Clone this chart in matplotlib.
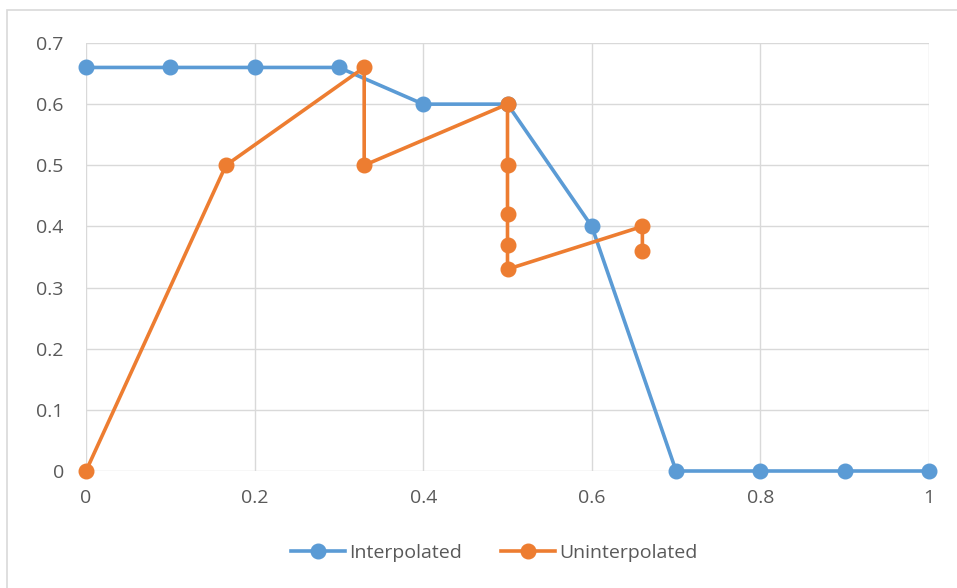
import matplotlib
matplotlib.use("Agg")
from matplotlib import pyplot as plt
from matplotlib.patches import Rectangle

# series
interp_x = [0, 0.1, 0.2, 0.3, 0.4, 0.5, 0.6, 0.7, 0.8, 0.9, 1.0]
interp_y = [0.66, 0.66, 0.66, 0.66, 0.6, 0.6, 0.4, 0, 0, 0, 0]

uninterp_x = [0, 0.166, 0.33, 0.33, 0.5, 0.5, 0.5, 0.5, 0.5, 0.66, 0.66]
uninterp_y = [0, 0.5, 0.66, 0.5, 0.6, 0.5, 0.42, 0.37, 0.33, 0.4, 0.36]

x_ticks = [0, 0.2, 0.4, 0.6, 0.8, 1]
x_tick_labels = ["0", "0.2", "0.4", "0.6", "0.8", "1"]
y_ticks = [0, 0.1, 0.2, 0.3, 0.4, 0.5, 0.6, 0.7]
y_tick_labels = ["0", "0.1", "0.2", "0.3", "0.4", "0.5", "0.6", "0.7"]

plt.rcParams["font.family"] = ["Open Sans", "DejaVu Sans"]

fig = plt.figure(figsize=(9.57, 5.88), dpi=100)
fig.patches.append(Rectangle((7 / 957, -0.1), 1.2, 1 - 10 / 588 + 0.1,
                             transform=fig.transFigure, fill=False,
                             edgecolor="#d9d9d9", linewidth=1.2))
ax = fig.add_axes([86 / 957, 1 - 471 / 588, (929 - 86) / 957, (471 - 43) / 588])

blue = "#5b9bd5"
orange = "#ed7d31"
ax.plot(interp_x, interp_y, color=blue, linewidth=2.6, marker="o",
        markersize=10.5, label="Interpolated", clip_on=False, zorder=3)
ax.plot(uninterp_x, uninterp_y, color=orange, linewidth=2.6, marker="o",
        markersize=10.5, label="Uninterpolated", clip_on=False, zorder=4)

ax.set_xlim(0, 1)
ax.set_ylim(0, 0.7)
ax.set_xticks(x_ticks, x_tick_labels)
ax.set_yticks(y_ticks, y_tick_labels)
ax.grid(True, color="#d9d9d9", linewidth=1)
ax.set_axisbelow(True)
for s in ax.spines.values():
    s.set_visible(False)
ax.tick_params(length=0, labelsize=14, colors="#595959")
ax.tick_params(axis="x", pad=13)
ax.tick_params(axis="y", pad=16)

fig.legend(loc="center", bbox_to_anchor=(494 / 957, 1 - 553 / 588), ncol=2,
           frameon=False, fontsize=14, labelcolor="#595959",
           handlelength=2.8, columnspacing=2.0, handletextpad=0.2)

fig.savefig("out.png", dpi=100)
